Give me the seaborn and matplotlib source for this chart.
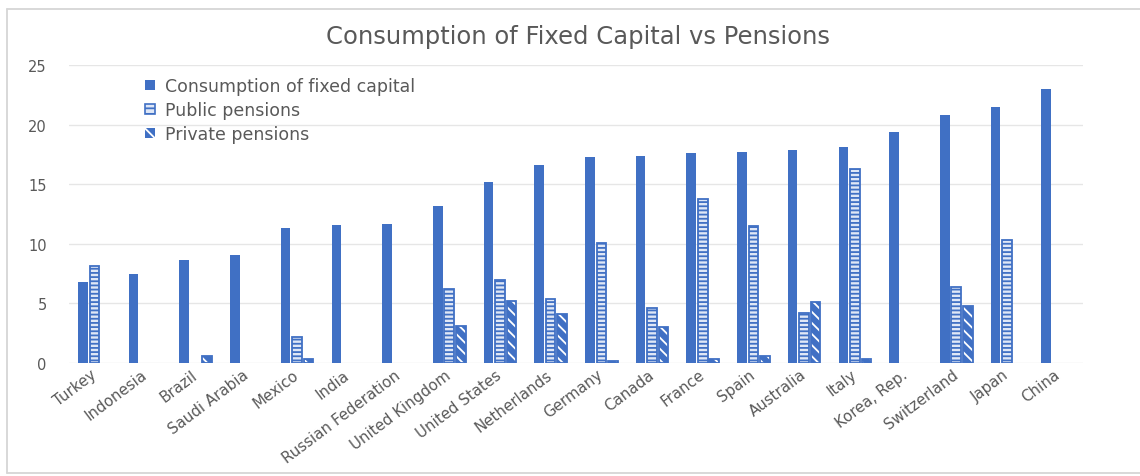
import numpy as np
import pandas as pd
import matplotlib
matplotlib.use("Agg")
import matplotlib.pyplot as plt
from matplotlib.patches import Patch, Rectangle
import seaborn as sns

# ---- data -------------------------------------------------------------
countries = ["Turkey", "Indonesia", "Brazil", "Saudi Arabia", "Mexico", "India",
             "Russian Federation", "United Kingdom", "United States", "Netherlands",
             "Germany", "Canada", "France", "Spain", "Australia", "Italy",
             "Korea, Rep.", "Switzerland", "Japan", "China"]
nan = np.nan
fixed_capital = [6.8, 7.5, 8.6, 9.1, 11.3, 11.6, 11.7, 13.2, 15.2, 16.6,
                 17.3, 17.4, 17.6, 17.7, 17.9, 18.1, 19.4, 20.8, 21.5, 23.0]
public_pensions = [8.1, nan, nan, nan, 2.2, nan, nan, 6.2, 7.0, 5.4,
                   10.1, 4.6, 13.8, 11.5, 4.2, 16.3, nan, 6.4, 10.3, nan]
private_pensions = [nan, nan, 0.6, nan, 0.3, nan, nan, 3.1, 5.2, 4.1,
                    0.2, 3.0, 0.3, 0.6, 5.1, 0.3, nan, 4.8, nan, nan]
series_names = ["Consumption of fixed capital", "Public pensions", "Private pensions"]
y_ticks = [0, 5, 10, 15, 20, 25]
title = "Consumption of Fixed Capital vs Pensions"

df = pd.DataFrame({"country": countries,
                   series_names[0]: fixed_capital,
                   series_names[1]: public_pensions,
                   series_names[2]: private_pensions})
long_df = df.melt(id_vars="country", var_name="series", value_name="value").dropna()

# ---- style ------------------------------------------------------------
sns.set_theme(style="white")
plt.rcParams["font.family"] = ["DejaVu Sans"]
plt.rcParams["hatch.linewidth"] = 1.3

BLUE = "#4070C4"
TEXT = "#595959"
GRID = "#e6e6e6"

W, H = 1140, 477
fig = plt.figure(figsize=(W / 100, H / 100), dpi=100)
fig.patch.set_facecolor("white")

# chart frame (left, top and bottom edges)
frame_kw = dict(color="#d6d6d6", linewidth=1.3, transform=fig.transFigure)
fig.add_artist(plt.Line2D([7 / W, 7 / W], [1 - 10 / H, 1 - 474 / H], **frame_kw))
fig.add_artist(plt.Line2D([7 / W, 1.0], [1 - 10 / H, 1 - 10 / H], **frame_kw))
fig.add_artist(plt.Line2D([7 / W, 1.0], [1 - 474 / H, 1 - 474 / H], **frame_kw))

left, right, top, bottom = 69, 1083, 66, 364
ax = fig.add_axes([left / W, 1 - bottom / H, (right - left) / W, (bottom - top) / H])

sns.barplot(data=long_df, x="country", y="value", hue="series",
            order=countries, hue_order=series_names,
            palette=[BLUE, BLUE, BLUE], saturation=1, width=0.68,
            errorbar=None, legend=False, ax=ax)

bar_w = 0.19
for idx, cont in enumerate(ax.containers):
    for p in cont.patches:
        cx = p.get_x() + p.get_width() / 2
        p.set_x(cx - bar_w / 2)
        p.set_width(bar_w)
        if idx == 0:
            p.set_facecolor(BLUE)
            p.set_edgecolor(BLUE)
            p.set_linewidth(0)
        elif idx == 1:
            p.set_facecolor("#dfe7f6")
            p.set_edgecolor(BLUE)
            p.set_hatch("----")
            p.set_linewidth(1.3)
        else:
            p.set_facecolor(BLUE)
            p.set_edgecolor("white")
            p.set_hatch("\\\\\\")
            p.set_linewidth(0)
            ax.add_patch(Rectangle((p.get_x(), 0), bar_w, p.get_height(),
                                   fill=False, edgecolor=BLUE, linewidth=1.3,
                                   zorder=p.get_zorder() + 0.1))

ax.set_xlim(-0.5, len(countries) - 0.5)
ax.set_ylim(0, 25)
ax.set_yticks(y_ticks)
ax.set_yticklabels([str(t) for t in y_ticks])
ax.yaxis.grid(True, color=GRID, linewidth=1)
ax.set_axisbelow(True)
for s in ax.spines.values():
    s.set_visible(False)
ax.set_xlabel("")
ax.set_ylabel("")
ax.tick_params(axis="y", length=0, pad=16, labelsize=10.5, labelcolor=TEXT)
ax.tick_params(axis="x", length=0, pad=7, labelsize=10.8, labelcolor=TEXT)
ax.set_xticks(range(len(countries)))
ax.set_xticklabels(countries, rotation=37, ha="right", va="center", rotation_mode="anchor")

fig.text(578 / W, 1 - 37 / H, title, ha="center", va="center",
         fontsize=17.5, color=TEXT)

handles = [
    Patch(facecolor=BLUE, edgecolor=BLUE, linewidth=0),
    Patch(facecolor="#dfe7f6", edgecolor=BLUE, hatch="---", linewidth=1.2),
    Patch(facecolor=BLUE, edgecolor="white", hatch="\\\\", linewidth=0),
]
leg = fig.legend(handles, series_names, loc="upper left",
                 bbox_to_anchor=(145 / W, 1 - 78 / H), bbox_transform=fig.transFigure,
                 frameon=False, fontsize=12.5, labelcolor=TEXT,
                 handlelength=0.55, handleheight=0.5, handletextpad=0.6,
                 labelspacing=0.36, borderpad=0, borderaxespad=0)

fig.savefig("out.png", dpi=100, facecolor="white")
